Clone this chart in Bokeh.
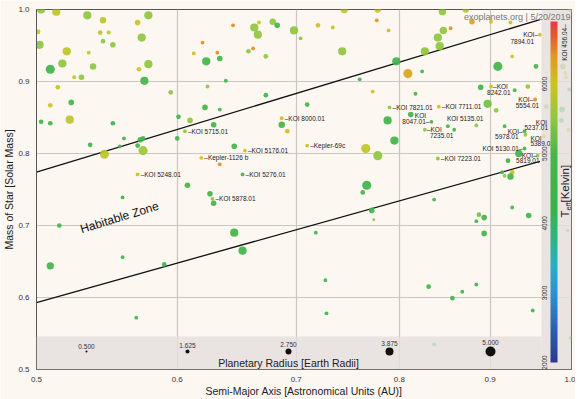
import math
import numpy as np
from bokeh.plotting import figure
from bokeh.models import (ColumnDataSource, LinearColorMapper, BoxAnnotation,
                          FixedTicker, PrintfTickFormatter)
from bokeh.core.properties import value
from bokeh.embed import file_html
from bokeh.resources import INLINE

# ---------------- data ----------------
semi_major_axis_au = [
    0.503, 0.513, 0.534, 0.545, 0.570, 0.578, 0.501, 0.543, 0.549, 0.573,
    0.502, 0.545, 0.552, 0.520, 0.535, 0.509, 0.517, 0.538, 0.578, 0.571,
    0.525, 0.530, 0.575, 0.514, 0.613, 0.595, 0.523, 0.509, 0.522, 0.503,
    0.509, 0.552, 0.601, 0.610, 0.560, 0.572, 0.574, 0.606, 0.570, 0.557,
    0.574, 0.546, 0.600, 0.536,
    0.745, 0.778, 0.645, 0.667, 0.663, 0.679, 0.683, 0.666, 0.698, 0.720,
    0.734, 0.777, 0.789, 0.704, 0.620, 0.632, 0.662, 0.658, 0.673, 0.634,
    0.623, 0.743, 0.797, 0.639, 0.624, 0.760, 0.773, 0.673, 0.710, 0.622,
    0.634, 0.629, 0.790, 0.788, 0.687, 0.687, 0.692, 0.795,
    0.846, 0.872, 0.879, 0.901, 0.924, 0.847, 0.855, 0.841, 0.843, 0.827,
    0.809, 0.824, 0.909, 0.926, 0.955, 0.960, 0.945, 0.889, 0.901, 0.929,
    0.817, 0.897, 0.907, 0.954, 0.842, 0.812, 0.834, 0.852, 0.859, 0.827,
    0.884, 0.917, 0.941, 0.942, 0.965, 0.941, 0.934, 0.957, 0.921, 0.841,
    0.914, 0.917, 0.926, 0.924,
    0.710, 0.766, 0.778, 0.767, 0.763, 0.837, 0.772, 0.774, 0.718, 0.926,
    0.887, 0.893, 0.946, 0.884, 0.893, 0.646, 0.655, 0.619, 0.634, 0.570,
    0.653, 0.608, 0.626, 0.628, 0.629, 0.559, 0.515, 0.509, 0.559, 0.590,
    0.646, 0.653, 0.727, 0.728, 0.569, 0.831, 0.868, 0.884, 0.857, 0.951,
    0.837, 0.999,
    0.999, 0.989, 0.992, 0.993, 0.997, 0.968, 0.988, 0.987, 0.996, 0.995,
    0.980, 0.989,
]
star_mass = [
    1.000, 0.997, 0.992, 0.985, 0.982, 0.992, 0.969, 0.968, 0.968, 0.961,
    0.951, 0.956, 0.951, 0.942, 0.940, 0.917, 0.925, 0.921, 0.924, 0.917,
    0.906, 0.906, 0.901, 0.892, 0.939, 0.885, 0.871, 0.867, 0.847, 0.844,
    0.842, 0.842, 0.851, 0.846, 0.821, 0.819, 0.821, 0.831, 0.811, 0.810,
    0.804, 0.799, 0.821, 0.812,
    1.000, 1.000, 0.978, 0.982, 0.975, 0.983, 0.978, 0.965, 0.971, 0.978,
    0.975, 0.985, 0.971, 0.960, 0.954, 0.940, 0.946, 0.942, 0.935, 0.932,
    0.928, 0.942, 0.928, 0.901, 0.893, 0.903, 0.886, 0.881, 0.868, 0.864,
    0.861, 0.840, 0.864, 0.846, 0.849, 0.840, 0.831, 0.818,
    0.997, 1.000, 0.983, 0.983, 0.982, 0.971, 0.974, 0.961, 0.949, 0.942,
    0.911, 0.914, 0.921, 0.935, 0.921, 0.965, 0.893, 0.892, 0.893, 0.888,
    0.883, 0.869, 0.860, 0.875, 0.865, 0.854, 0.844, 0.838, 0.833, 0.833,
    0.839, 0.838, 0.831, 0.826, 0.824, 0.807, 0.800, 0.797, 0.790, 0.793,
    0.774, 0.769, 0.774, 0.768,
    0.811, 0.807, 0.797, 0.756, 0.746, 0.736, 0.721, 0.708, 0.690, 0.725,
    0.715, 0.711, 0.714, 0.706, 0.689, 0.810, 0.804, 0.794, 0.785, 0.771,
    0.771, 0.756, 0.744, 0.737, 0.731, 0.739, 0.700, 0.644, 0.656, 0.646,
    0.690, 0.665, 0.624, 0.578, 0.572, 0.615, 0.608, 0.618, 0.599, 0.582,
    0.535, 0.544,
    0.999, 0.921, 0.912, 0.906, 0.889, 0.865, 0.861, 0.846, 0.833, 0.693,
    0.685, 0.949,
]
planet_radius = [
    4, 4, 4, 3, 2.5, 4, 2, 2, 1.5, 4,
    4, 2, 2.5, 4, 1.5, 4.5, 4, 3, 4, 2,
    1.5, 2.5, 4, 2, 1.5, 2, 2.5, 2, 4, 2,
    2, 2, 2, 2.5, 1.5, 2.5, 2, 1.5, 2, 1.5,
    4.5, 4.5, 2, 2,
    3.5, 3, 1.5, 1.5, 4, 3, 2.5, 4, 4, 2,
    1.5, 1.5, 1.5, 1.5, 1.5, 1.5, 1.5, 2, 2, 2.5,
    4, 4, 4, 1.5, 1.5, 1.5, 1.5, 2, 2, 2.5,
    1.5, 2.5, 1.5, 4, 1.5, 3, 2, 4,
    3.5, 3, 2.5, 1.5, 1.5, 3.5, 1.5, 4, 4, 4,
    4.5, 1.5, 4.5, 1.5, 2, 1.5, 2, 2.5, 1.5, 1.5,
    1.5, 4, 2, 1.5, 1.5, 2.5, 1.5, 1.5, 1.5, 1.5,
    1.5, 1.5, 1.5, 1.5, 1.5, 1.5, 3.5, 1.5, 2, 1.5,
    1.5, 1.5, 2, 3,
    1.5, 4.5, 4.5, 4.5, 2, 1.5, 2.5, 1, 1.5, 1.5,
    2, 2.5, 2.5, 1.5, 2.5, 2.5, 1.5, 1.5, 1.5, 1.5,
    1.5, 2.5, 2.5, 1.5, 2.5, 1.5, 2, 3.5, 1.5, 2,
    4, 4, 1.5, 1.5, 1.5, 2, 1.5, 1.5, 2, 1.5,
    1.5, 1.5,
    2, 2.5, 1.5, 1.5, 1.5, 2, 2.5, 2, 1.5, 1.5,
    1.5, 2,
]
star_teff = [
    5500, 5850, 5500, 5850, 6000, 5500, 5850, 5850, 5850, 5500,
    5500, 5500, 5500, 5850, 5850, 4600, 5500, 5500, 5500, 6000,
    5850, 5500, 4800, 5850, 6050, 5500, 4800, 6000, 5850, 4700,
    4700, 4700, 4700, 5500, 4700, 4700, 4700, 5500, 4700, 4700,
    5600, 5850, 4700, 4700,
    5850, 6050, 6450, 6050, 5500, 5500, 4800, 5500, 5500, 6050,
    5850, 6450, 6050, 5500, 6450, 6450, 6450, 5500, 5500, 4700,
    4700, 5500, 4700, 4700, 5500, 4700, 6050, 4700, 4700, 4700,
    4700, 4700, 5500, 4700, 6050, 4700, 6050, 4700,
    5500, 5850, 6300, 6050, 5850, 5500, 6450, 5500, 5500, 5500,
    6300, 4700, 4700, 6050, 4700, 6050, 5500, 4700, 6050, 4700,
    4700, 5300, 5500, 6450, 6050, 4700, 4700, 4700, 4700, 5500,
    5500, 4700, 4700, 5500, 6050, 4700, 4700, 5500, 4700, 5500,
    4700, 5500, 6050, 4700,
    6050, 5850, 5500, 4600, 4700, 4700, 4700, 5500, 4700, 4700,
    5300, 4700, 4700, 4700, 4700, 4700, 6050, 6050, 6450, 6050,
    4700, 4700, 4700, 5500, 4700, 4700, 4700, 4700, 4700, 4700,
    4700, 4700, 4700, 4700, 4700, 4700, 4700, 4700, 4700, 4700,
    3600, 4700,
    5500, 5500, 6050, 6050, 4800, 5500, 4700, 4700, 6050, 5500,
    5500, 5500,
]

labeled_names = ["KOI 5715.01", "KOI 8000.01", "KOI 5176.01", "Kepler-1126 b",
                 "KOI 5248.01", "KOI 5276.01", "KOI 5878.01", "Kepler-69c",
                 "KOI 7821.01", "KOI 7711.01", "KOI 7223.01", "KOI 8242.01",
                 "KOI 7894.01", "KOI 5554.01", "KOI 8047.01", "KOI 5135.01",
                 "KOI 7235.01", "KOI 5237.01", "KOI 5978.01", "KOI 5389.01",
                 "KOI 5130.01", "KOI 5819.01", "KOI 456.04"]
labeled_index = [37, 78, 142, 143, 145, 146, 149, 126, 76, 106, 121, 100,
                 97, 105, 108, 109, 111, 116, 114, 115, 117, 119, 168]

# habitable zone boundaries (semi-major axis, stellar mass)
hz_axis = [0.5, 0.96]
hz_inner_mass = [0.774, 0.986]
hz_outer_mass = [0.593, 0.789]

x_ticks = [0.5, 0.6, 0.7, 0.8, 0.9, 1.0]
y_ticks = [0.5, 0.6, 0.7, 0.8, 0.9, 1.0]
teff_ticks = [2000, 3000, 4000, 5000, 6000]
teff_low, teff_high = 2000, 6900

legend_radius = [0.5, 1.625, 2.75, 3.875, 5.0]
legend_labels = ["0.500", "1.625", "2.750", "3.875", "5.000"]

# ---------------- style / layout ----------------
BG = "#fdf7f1"
FONT = "Liberation Sans"
FW, FH = 535, 360
X0, X1, Y0, Y1 = 0.5, 1.0, 0.5, 1.0


def fx(px):
    """pixels from frame left -> data x (log axis)"""
    return X0 * (X1 / X0) ** (px / FW)


def fy(py):
    """pixels from frame top -> data y"""
    return Y1 - py / FH * (Y1 - Y0)


def dot_size(r):
    return 1.2 + 1.76 * r


cmap_anchors = [(2000, "#2b3990"), (2500, "#2a62b6"), (3000, "#2a94d3"),
                (3400, "#27b0c6"), (3800, "#2cb67c"), (4200, "#34b34a"),
                (5000, "#48b649"), (5500, "#8ec63f"), (6000, "#cdc51e"),
                (6400, "#e09a22"), (6700, "#e45a2c"), (6900, "#ea3a40")]


def hex2rgb(h):
    return tuple(int(h[i:i + 2], 16) for i in (1, 3, 5))


_t = [a for a, _ in cmap_anchors]
_c = np.array([hex2rgb(c) for _, c in cmap_anchors], dtype=float)
_g = np.linspace(teff_low, teff_high, 256)
palette = ["#%02x%02x%02x" % tuple(int(round(np.interp(g, _t, _c[:, k]))) for k in range(3))
           for g in _g]
mapper = LinearColorMapper(palette=palette, low=teff_low, high=teff_high)

p = figure(frame_width=FW, frame_height=FH, x_axis_type="log",
           x_range=(X0, X1), y_range=(Y0, Y1),
           output_backend="svg", toolbar_location=None,
           background_fill_color=BG, border_fill_color=BG,
           min_border_left=0, min_border_right=4, min_border_top=9, min_border_bottom=0)

p.outline_line_color = "#555555"
p.grid.grid_line_color = "#cbc6c2"
p.grid.grid_line_width = 1.2
p.xgrid.ticker = FixedTicker(ticks=x_ticks)
p.ygrid.ticker = FixedTicker(ticks=y_ticks)

for ax, ticks in ((p.xaxis[0], x_ticks), (p.yaxis[0], y_ticks)):
    ax.ticker = FixedTicker(ticks=ticks)
    ax.formatter = PrintfTickFormatter(format="%.1f")
    ax.major_tick_line_color = None
    ax.minor_tick_line_color = None
    ax.major_label_text_font = FONT
    ax.major_label_text_font_size = "8px"
    ax.major_label_text_color = "#333333"
    ax.major_label_standoff = 1
    ax.axis_line_color = "#555555"
    ax.axis_label_text_font = FONT
    ax.axis_label_text_font_size = "10.5px"
    ax.axis_label_text_font_style = "normal"
    ax.axis_label_text_color = "#222222"
    ax.axis_label_standoff = 0
p.xaxis.axis_label = "Semi-Major Axis [Astronomical Units (AU)]"
p.yaxis.axis_label = "Mass of Star [Solar Mass]"

# habitable zone lines
p.line(hz_axis, hz_inner_mass, line_color="#111111", line_width=1.3)
p.line(hz_axis, hz_outer_mass, line_color="#111111", line_width=1.3)

# planets
src = ColumnDataSource(dict(a=semi_major_axis_au, m=star_mass, r=planet_radius, t=star_teff,
                            size=[dot_size(r) for r in planet_radius]))
p.scatter(x="a", y="m", size="size", source=src,
          fill_color={"field": "t", "transform": mapper}, fill_alpha=0.92, line_color=None)

# translucent bands (colour bar panel and size legend panel)
p.add_layout(BoxAnnotation(left=fx(505), fill_color="#e3dfdc", fill_alpha=0.78, line_color=None))
p.add_layout(BoxAnnotation(top=fy(327), right=fx(505), fill_color="#e3dfdc", fill_alpha=0.78,
                           line_color=None))

# planet labels
label_layout = {
    "KOI 5715.01": [("\u2013KOI 5715.01", "left", 3, 0)],
    "KOI 8000.01": [("\u2013KOI 8000.01", "left", 3, 0)],
    "KOI 5176.01": [("\u2013KOI 5176.01", "left", 3, 0)],
    "Kepler-1126 b": [("\u2013Kepler-1126 b", "left", 3, 0)],
    "KOI 5248.01": [("\u2013KOI 5248.01", "left", 3, 0)],
    "KOI 5276.01": [("\u2013KOI 5276.01", "left", 3, 0)],
    "KOI 5878.01": [("\u2013KOI 5878.01", "left", 3, 0)],
    "Kepler-69c": [("\u2013Kepler-69c", "left", 3, 0)],
    "KOI 7821.01": [("\u2013KOI 7821.01", "left", 3, 0)],
    "KOI 7711.01": [("\u2013KOI 7711.01", "left", 3, 0)],
    "KOI 7223.01": [("\u2013KOI 7223.01", "left", 3, 0)],
    "KOI 8242.01": [("\u2013KOI", "left", 2, 0), ("8242.01", "left", -4, 6)],
    "KOI 7894.01": [("KOI\u2013", "right", -2, 0), ("7894.01", "right", -6, 7)],
    "KOI 5554.01": [("KOI\u2013", "right", -2, 0), ("5554.01", "right", 4, 6)],
    "KOI 8047.01": [("KOI", "center", -11, -6), ("8047.01\u2013", "right", -2, 0)],
    "KOI 5135.01": [("KOI 5135.01", "left", -1, -8)],
    "KOI 7235.01": [("\u2013KOI", "left", 2, 0), ("7235.01", "left", 5, 6)],
    "KOI 5237.01": [("KOI", "right", 3, -14), ("5237.01", "right", 4, -9)],
    "KOI 5978.01": [("KOI\u2013", "right", -2, 0), ("5978.01", "right", -6, 5)],
    "KOI 5389.01": [("KOI", "left", 5, 4), ("5389.01", "left", 5, 9)],
    "KOI 5130.01": [("KOI 5130.01\u2013", "right", -2, 0)],
    "KOI 5819.01": [("KOI\u2013", "right", -1, 0), ("5819.01", "right", 2, 5)],
}
rows = {"left": [], "right": [], "center": []}
for name, idx in zip(labeled_names, labeled_index):
    for txt, align, dx, dy in label_layout.get(name, []):
        rows[align].append((semi_major_axis_au[idx], star_mass[idx], txt, dx, dy))
for align, rr in rows.items():
    if not rr:
        continue
    lsrc = ColumnDataSource(dict(x=[r[0] for r in rr], y=[r[1] for r in rr],
                                 text=[r[2] for r in rr], dx=[r[3] for r in rr],
                                 dy=[r[4] for r in rr]))
    p.text(x="x", y="y", text="text", x_offset="dx", y_offset="dy", source=lsrc,
           text_align=align, text_baseline="middle", text_font=value(FONT),
           text_font_size="6.5px", text_color="#222222", level="overlay")

# rotated label of KOI 456.04
i456 = labeled_index[labeled_names.index("KOI 456.04")]
p.text(x=[semi_major_axis_au[i456]], y=[star_mass[i456]], text=["KOI 456.04\u2013"],
       x_offset=-6, y_offset=14, angle=math.pi / 2, text_align="right", text_baseline="middle",
       text_font=value(FONT), text_font_size="6.5px", text_color="#222222", level="overlay")

# Habitable zone caption
p.text(x=[fx(83)], y=[fy(208)], text=["Habitable Zone"], angle=0.30,
       text_align="center", text_baseline="middle", text_font=value(FONT),
       text_font_size="12px", text_color="#111111")

# credit
p.text(x=[fx(534)], y=[fy(7)], text=["exoplanets.org | 5/20/2019"], text_align="right",
       text_baseline="middle", text_font=value(FONT), text_font_size="9px",
       text_color="#777777", level="overlay")

# colour bar (gradient image through the same colour mapper)
cb_left, cb_width, cb_top, cb_bottom = 514, 7, 12, 353
gradient = np.linspace(teff_low, teff_high, 256).reshape(-1, 1)
p.image(image=[gradient], x=fx(cb_left), y=fy(cb_bottom),
        dw=fx(cb_left + cb_width) - fx(cb_left), dh=fy(cb_top) - fy(cb_bottom),
        color_mapper=mapper, level="overlay")


def teff_to_fy(t):
    return cb_bottom - (t - teff_low) / (teff_high - teff_low) * (cb_bottom - cb_top)


p.text(x=[fx(508)] * len(teff_ticks), y=[fy(teff_to_fy(t)) for t in teff_ticks],
       text=[str(t) for t in teff_ticks], angle=math.pi / 2, text_align="center",
       text_baseline="middle", text_font=value(FONT), text_font_size="6.5px",
       text_color="#333333", level="overlay")
p.text(x=[fx(528)], y=[fy(208)], text=["T"], angle=math.pi / 2, text_align="left",
       text_baseline="middle", text_font=value(FONT), text_font_size="11.5px",
       text_color="#222222", level="overlay")
p.text(x=[fx(531.5)], y=[fy(201)], text=["eff"], angle=math.pi / 2, text_align="left",
       text_baseline="middle", text_font=value(FONT), text_font_size="7.5px",
       text_color="#222222", level="overlay")
p.text(x=[fx(528)], y=[fy(193)], text=["[Kelvin]"], angle=math.pi / 2, text_align="left",
       text_baseline="middle", text_font=value(FONT), text_font_size="11.5px",
       text_color="#222222", level="overlay")

# planetary radius legend
lx = [fx(50 + 101 * i) for i in range(len(legend_radius))]
ly = [fy(342)] * len(legend_radius)
lsizes = [dot_size(r) for r in legend_radius]
p.scatter(x=lx, y=ly, size=lsizes, fill_color="#111111", line_color=None, level="overlay")
p.text(x=lx, y=ly, text=legend_labels, y_offset=[-(s / 2 + 1.5) for s in lsizes],
       text_align="center", text_baseline="bottom", text_font=value(FONT),
       text_font_size="6.5px", text_color="#333333", level="overlay")
p.text(x=[lx[2]], y=[fy(353)], text=["Planetary Radius [Earth Radii]"], text_align="center",
       text_baseline="middle", text_font=value(FONT), text_font_size="10.5px",
       text_color="#222222", level="overlay")

open("out.html", "w").write(file_html(p, INLINE))
